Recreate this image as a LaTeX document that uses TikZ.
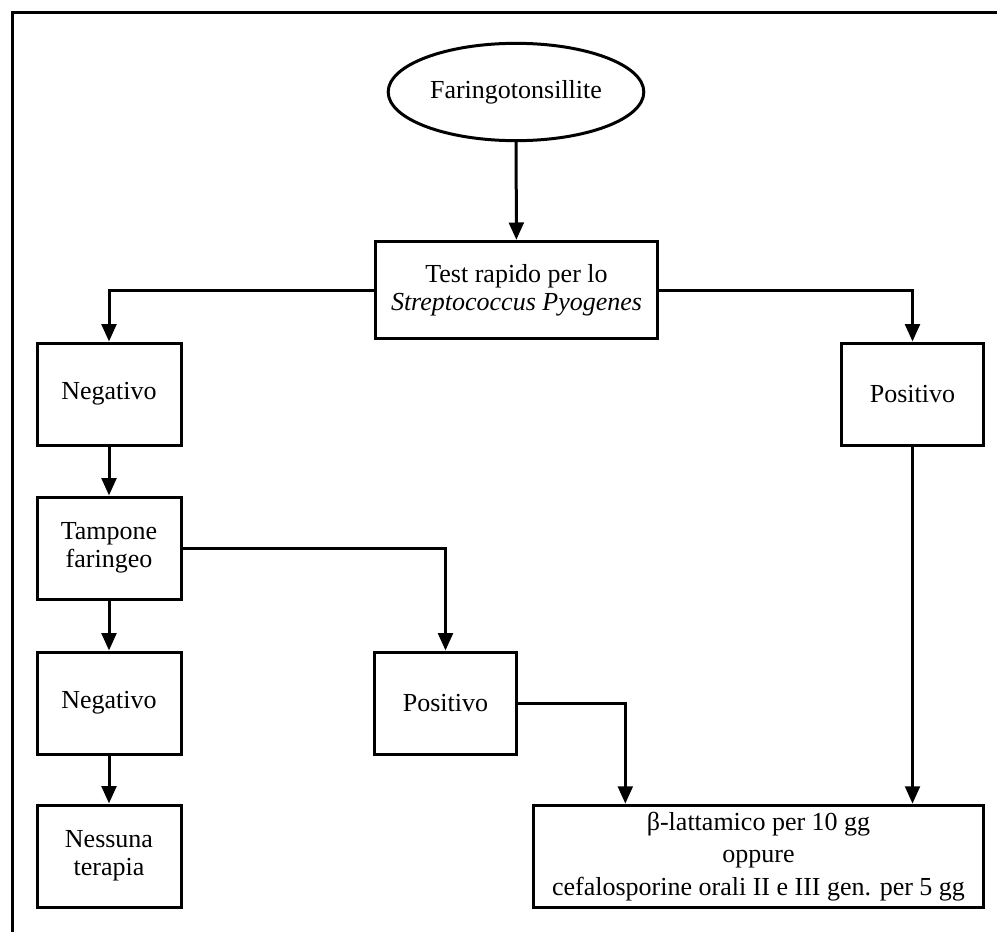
\documentclass[tikz,border=0pt]{standalone}
\usepackage{fontspec}
\setmainfont{Liberation Serif}
\usetikzlibrary{arrows.meta,shapes.geometric}

\begin{document}
\begin{tikzpicture}[x=0.75pt,y=-0.75pt,line width=2.25pt,
    font=\fontsize{19.5}{21}\selectfont,
    box/.style={draw,rectangle,align=center,minimum width=108pt,minimum height=76.5pt},
    freccia/.style={-{Triangle[length=13pt,width=11pt]}}]
    \useasboundingbox (0,0) rectangle (997,932);
    % cornice
    \draw (12,932) -- (12,12) -- (997,12);

    \node[draw,ellipse,minimum width=172pt,minimum height=73pt] (faring) at (516,92) {Faringotonsillite};
    \node[box,minimum width=212pt,minimum height=73pt] (test) at (516.5,290) {Test rapido per lo\\\textit{Streptococcus Pyogenes}};

    \node[box] (neg1) at (109,394) {Negativo};
    \node[box,minimum width=106pt] (pos1) at (912.5,394) {Positivo};
    \node[box] (tamp) at (109,548) {Tampone\\faringeo};
    \node[box] (neg2) at (109,703) {Negativo};
    \node[box,minimum width=107pt] (pos2) at (445.5,703) {Positivo};
    \node[box] (nessuna) at (109,856) {Nessuna\\terapia};
    \node[box,minimum width=337pt,minimum height=77pt,font=\fontsize{19.5}{24.5}\selectfont] (beta) at (758.5,856.5)
        {β-lattamico per 10 gg\\oppure\\cefalosporine orali II e III gen. per 5 gg};
    \path (beta.north west) ++(93,0) coordinate (betaL);

    \draw[freccia] (faring) -- (test);
    \draw[freccia] (test.west) -| (neg1.north);
    \draw[freccia] (test.east) -| (pos1.north);
    \draw[freccia] (neg1) -- (tamp);
    \draw[freccia] (tamp.east) -| (pos2.north);
    \draw[freccia] (tamp) -- (neg2);
    \draw[freccia] (neg2) -- (nessuna);
    \draw[freccia] (pos2.east) -| (betaL);
    \draw[freccia] (pos1.south) -- (pos1.south |- beta.north);
\end{tikzpicture}
\end{document}
